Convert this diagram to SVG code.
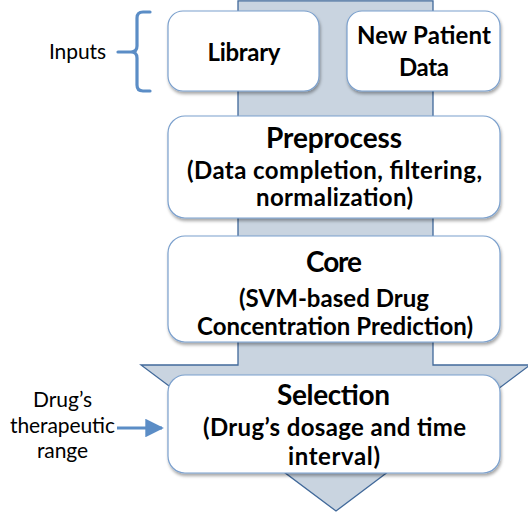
<svg xmlns="http://www.w3.org/2000/svg" width="528" height="518" viewBox="0 0 528 518">
<defs>
<filter id="sh" x="-10%" y="-10%" width="125%" height="130%">
<feDropShadow dx="1" dy="2.5" stdDeviation="1.8" flood-color="#000" flood-opacity="0.35"/>
</filter>
<marker id="ah" viewBox="0 0 10 10" refX="9" refY="5" markerWidth="5.8" markerHeight="5.8" orient="auto" markerUnits="strokeWidth">
<path d="M0,0 L10,5 L0,10 z" fill="#5b8dc6"/>
</marker>
<style>
.box{fill:#fff;stroke:#7ba0cd;stroke-width:1.2;filter:url(#sh)}
.t{font-family:Lato,"Open Sans","Liberation Sans",sans-serif;font-weight:bold;fill:#000;text-anchor:middle}
.tt{font-size:28px}
.st{font-size:24px}
.lb{font-family:Lato,"Open Sans","Liberation Sans",sans-serif;font-size:21px;fill:#000;text-anchor:middle}
.conn{fill:none;stroke:#5b8dc6;stroke-width:3.2}
</style>
</defs>
<g id="flow-arrow">
<polygon points="238,0.8 433,0.8 433,365 530,365 336,511 141,365 238,365" fill="#c9d4e0" stroke="#41699a" stroke-width="1.3"/>
</g>
<g id="library">
<rect class="box" x="168" y="11" width="151" height="80" rx="15"/>
<text class="t st" x="244" y="61" textLength="73">Library</text>
</g>
<g id="new-patient-data">
<rect class="box" x="347" y="11" width="153" height="80" rx="15"/>
<text class="t st" x="424" y="44" textLength="134">New Patient</text>
<text class="t st" x="424" y="76" textLength="50">Data</text>
</g>
<g id="preprocess">
<rect class="box" x="168" y="116" width="332" height="102" rx="17"/>
<text class="t tt" x="334" y="148" textLength="136">Preprocess</text>
<text class="t st" x="334.5" y="179" textLength="295">(Data completion, filtering,</text>
<text class="t st" x="334.5" y="206" textLength="157">normalization)</text>
</g>
<g id="core">
<rect class="box" x="168" y="236" width="332" height="106" rx="17"/>
<text class="t tt" x="334" y="272" textLength="56">Core</text>
<text class="t st" x="334" y="307" textLength="190">(SVM-based Drug</text>
<text class="t st" x="335" y="335" textLength="276">Concentration Prediction)</text>
</g>
<g id="selection">
<rect class="box" x="168" y="375" width="332" height="98" rx="17"/>
<text class="t tt" x="333.5" y="405" textLength="113">Selection</text>
<text class="t st" x="334.5" y="436" textLength="263">(Drug’s dosage and time</text>
<text class="t st" x="334" y="465" textLength="92">interval)</text>
</g>
<g id="inputs-label">
<text class="lb" x="77.5" y="59" textLength="57">Inputs</text>
</g>
<g id="therapeutic-label">
<text class="lb" x="62.5" y="407" textLength="59">Drug’s</text>
<text class="lb" x="62.5" y="433" textLength="105">therapeutic</text>
<text class="lb" x="62.5" y="458" textLength="51">range</text>
</g>
<g id="connectors">
<path class="conn" d="M150,12 L143,12 Q137,12 137,18 L137,46 Q137,52 131,52 L118,52 M131,52 Q137,52 137,58 L137,85 Q137,91 143,91 L150,91" stroke-linecap="round"/>
<path class="conn" d="M117,428 L162,428" marker-end="url(#ah)"/>
</g>
</svg>
